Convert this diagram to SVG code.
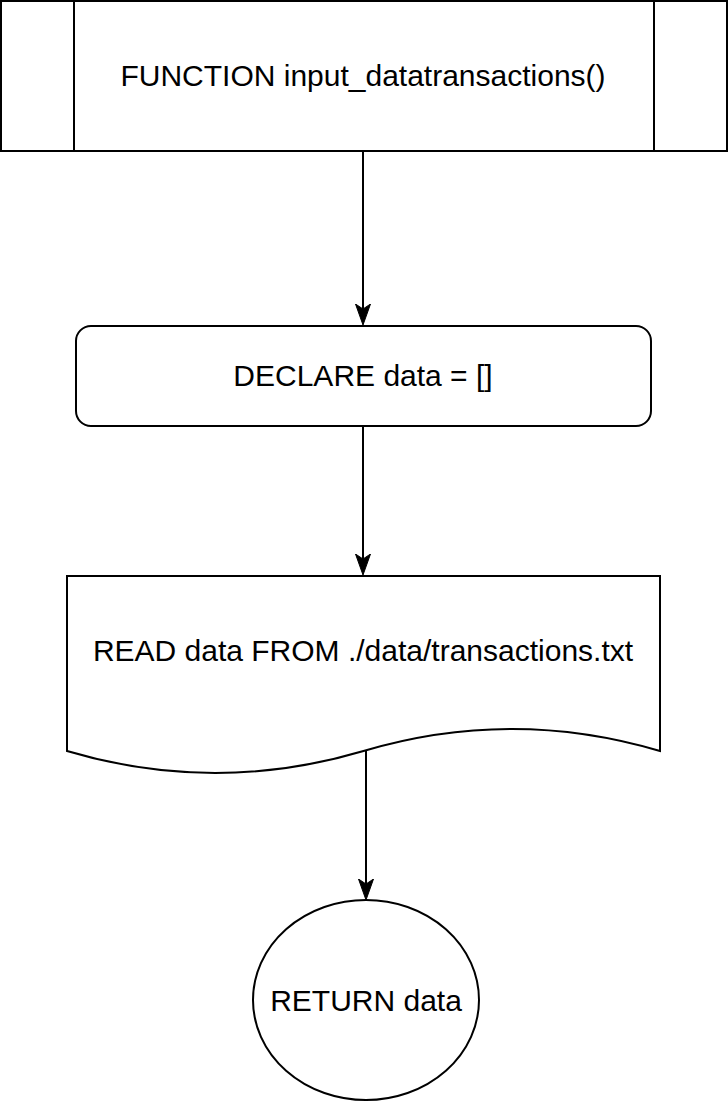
<svg xmlns="http://www.w3.org/2000/svg" width="728" height="1103" viewBox="0 0 728 1103">
  <style>
    .shape { fill: #ffffff; stroke: #000000; stroke-width: 2; }
    .conn { fill: none; stroke: #000000; stroke-width: 2; }
    .label { font-family: "Liberation Sans", Arial, sans-serif; font-size: 30px; fill: #000000; text-anchor: middle; }
  </style>
  <defs>
    <marker id="arrow" viewBox="0 -8 21 16" refX="5" refY="0" markerWidth="21" markerHeight="16" markerUnits="userSpaceOnUse" orient="auto">
      <path d="M0,-7.5 L21,0 L0,7.5 L5,0 Z" fill="#000000" stroke="#000000" stroke-width="1" stroke-linejoin="miter"/>
    </marker>
  </defs>
  <rect width="728" height="1103" fill="#ffffff"/>

  <g id="connectors">
    <path class="conn" d="M363,151 V309" marker-end="url(#arrow)"/>
    <path class="conn" d="M363,426 V559" marker-end="url(#arrow)"/>
    <path class="conn" d="M366,750 V884" marker-end="url(#arrow)"/>
  </g>

  <g id="node-function">
    <rect class="shape" x="1" y="1" width="726" height="150"/>
    <line class="conn" x1="74" y1="1" x2="74" y2="151"/>
    <line class="conn" x1="654" y1="1" x2="654" y2="151"/>
    <text class="label" x="363" y="86">FUNCTION input_datatransactions()</text>
  </g>

  <g id="node-declare">
    <rect class="shape" x="76" y="326" width="575" height="100" rx="15" ry="15"/>
    <text class="label" x="363" y="386">DECLARE data = []</text>
  </g>

  <g id="node-read">
    <path class="shape" d="M67,576 H660 V751 Q511.75,707 363.5,751 Q215.25,795 67,751 Z"/>
    <text class="label" x="363" y="661">READ data FROM ./data/transactions.txt</text>
  </g>

  <g id="node-return">
    <ellipse class="shape" cx="366" cy="1000" rx="113" ry="100"/>
    <text class="label" x="366" y="1011">RETURN data</text>
  </g>
</svg>
